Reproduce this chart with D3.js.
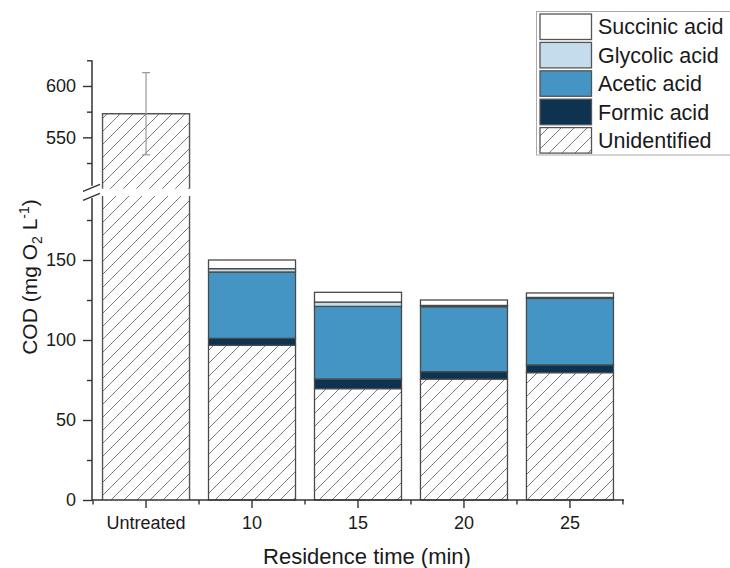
<!DOCTYPE html>
<html>
<head>
<meta charset="utf-8">
<script src="https://cdn.jsdelivr.net/npm/d3@7/dist/d3.min.js"></script>
<style>
  html, body { margin: 0; padding: 0; background: #fff; }
  svg { display: block; font-family: "Liberation Sans", Arial, sans-serif; }
</style>
</head>
<body>
<svg id="chart" width="730" height="568"></svg>
<script>
// Residence times (x categories)
const categories = ["Untreated", "10", "15", "20", "25"];

// COD contributions, mg O2 per litre
const unidentified = [573, 96.7, 69.6, 75.6, 79.6];
const formic       = [0, 4.3, 6.0, 4.6, 4.8];
const acetic       = [0, 41.5, 45.4, 40.6, 41.6];
const glycolic     = [0, 2.1, 2.7, 0.8, 0.6];
const succinic     = [0, 5.4, 6.1, 3.4, 2.8];
const errorBars    = [40, 0, 0, 0, 0];

// Series, bottom to top of each stack
const seriesNames  = ["Unidentified", "Formic acid", "Acetic acid", "Glycolic acid", "Succinic acid"];
const seriesValues = [unidentified, formic, acetic, glycolic, succinic];
const seriesFills  = ["url(#hatch)", "#0d3350", "#4494c4", "#c5dcec", "#ffffff"];

// Broken y axis: lower and upper segments
const lowerTicksMajor = [0, 50, 100, 150];
const lowerTicksMinor = [25, 75, 125, 175];
const upperTicksMajor = [550, 600];
const upperTicksMinor = [525, 575, 625];

const svg = d3.select("#chart");
const axisColor = "#333";
const textColor = "#1a1a1a";

// hatch pattern for the unidentified fraction
const defs = svg.append("defs");
const pat = defs.append("pattern")
  .attr("id", "hatch")
  .attr("patternUnits", "userSpaceOnUse")
  .attr("width", 13).attr("height", 13);
pat.append("rect").attr("width", 13).attr("height", 13).attr("fill", "#fff");
pat.append("path")
  .attr("d", "M-3,16 L16,-3 M-3,3 L3,-3 M10,16 L16,10")
  .attr("stroke", "#7a7a7a").attr("stroke-width", 1);

// scales
const x = d3.scaleBand().domain(categories).range([93, 623])
  .paddingInner(0.179).paddingOuter(0.09);
const yL = d3.scaleLinear().domain([0, 190]).range([500, 196]);
const yU = d3.scaleLinear().domain([500, 625]).range([188.7, 60.3]);

// stacked data
const stacks = categories.map((c, i) => {
  let base = 0;
  return seriesValues.map((vals, s) => {
    const seg = { cat: c, s, y0: base, y1: base + vals[i] };
    base += vals[i];
    return seg;
  }).filter(d => d.y1 > d.y0);
});

const barG = svg.append("g");

stacks.forEach(segs => {
  segs.forEach(d => {
    const x0 = x(d.cat), w = x.bandwidth();
    if (d.y1 > 190) {
      // bar crosses the break: draw lower and upper pieces, open at the break
      const lowTop = yL(190), upTop = yU(d.y1), upBot = yU(500);
      barG.append("rect").attr("x", x0).attr("y", lowTop).attr("width", w)
        .attr("height", yL(d.y0) - lowTop).attr("fill", seriesFills[d.s]);
      barG.append("rect").attr("x", x0).attr("y", upTop).attr("width", w)
        .attr("height", upBot - upTop).attr("fill", seriesFills[d.s]);
      barG.append("path")
        .attr("d", `M${x0},${lowTop} V${yL(d.y0)} M${x0 + w},${lowTop} V${yL(d.y0)}` +
                   ` M${x0},${upBot} V${upTop} H${x0 + w} V${upBot}`)
        .attr("fill", "none").attr("stroke", "#555").attr("stroke-width", 1.4);
    } else {
      barG.append("rect").attr("x", x0).attr("y", yL(d.y1)).attr("width", w)
        .attr("height", yL(d.y0) - yL(d.y1))
        .attr("fill", seriesFills[d.s])
        .attr("stroke", "#4a4a4a").attr("stroke-width", 1.3);
    }
  });
});

// error bars
categories.forEach((c, i) => {
  if (!errorBars[i]) return;
  const total = seriesValues.reduce((a, v) => a + v[i], 0);
  const cx = x(c) + x.bandwidth() / 2;
  const yy = v => (v > 190 ? yU(v) : yL(v));
  const top = yy(total + errorBars[i]), bot = yy(total - errorBars[i]);
  const g = svg.append("g").attr("stroke", "#999").attr("stroke-width", 1.2);
  g.append("line").attr("x1", cx).attr("x2", cx).attr("y1", top).attr("y2", bot);
  g.append("line").attr("x1", cx - 4).attr("x2", cx + 4).attr("y1", top).attr("y2", top);
  g.append("line").attr("x1", cx - 4).attr("x2", cx + 4).attr("y1", bot).attr("y2", bot);
});

// y axes
function styleAxis(g) {
  g.select(".domain").remove();
  g.selectAll("line").attr("stroke", axisColor).attr("stroke-width", 1.4);
  g.selectAll("text").attr("fill", textColor).style("font-size", "18px")
    .style("font-family", "'Liberation Sans', Arial, sans-serif");
}
const axisX = 92;
svg.append("g").attr("transform", `translate(${axisX},0)`)
  .call(d3.axisLeft(yL).tickValues(lowerTicksMajor).tickSize(9).tickPadding(7))
  .call(styleAxis);
svg.append("g").attr("transform", `translate(${axisX},0)`)
  .call(d3.axisLeft(yL).tickValues(lowerTicksMinor).tickSize(5).tickFormat(""))
  .call(styleAxis);
svg.append("g").attr("transform", `translate(${axisX},0)`)
  .call(d3.axisLeft(yU).tickValues(upperTicksMajor).tickSize(9).tickPadding(7))
  .call(styleAxis);
svg.append("g").attr("transform", `translate(${axisX},0)`)
  .call(d3.axisLeft(yU).tickValues(upperTicksMinor).tickSize(5).tickFormat(""))
  .call(styleAxis);

// y axis lines with break
svg.append("line").attr("x1", axisX).attr("x2", axisX)
  .attr("y1", yU(625)).attr("y2", yU(500) - 3)
  .attr("stroke", axisColor).attr("stroke-width", 1.5);
svg.append("line").attr("x1", axisX).attr("x2", axisX)
  .attr("y1", yL(190) + 2).attr("y2", yL(0))
  .attr("stroke", axisColor).attr("stroke-width", 1.5);
const breakY = (yU(500) + yL(190)) / 2;
[-4.5, 4.5].forEach(off => {
  svg.append("line")
    .attr("x1", axisX - 9).attr("y1", breakY + off + 3.5)
    .attr("x2", axisX + 8).attr("y2", breakY + off - 3.5)
    .attr("stroke", axisColor).attr("stroke-width", 1.5);
});

// x axis
svg.append("g").attr("transform", `translate(0,${yL(0)})`)
  .call(d3.axisBottom(x).tickSize(8).tickPadding(8))
  .call(g => {
    g.select(".domain").remove();
    g.selectAll("line").attr("stroke", axisColor).attr("stroke-width", 1.4);
    g.selectAll("text").attr("fill", textColor).style("font-size", "18px")
      .style("font-family", "'Liberation Sans', Arial, sans-serif");
  });
svg.append("line").attr("x1", 92).attr("x2", 624)
  .attr("y1", yL(0)).attr("y2", yL(0))
  .attr("stroke", axisColor).attr("stroke-width", 1.5);
// minor ticks on band boundaries
const step = x.step();
const bounds = [x(categories[0]) - (step - x.bandwidth()) / 2]
  .concat(categories.map(c => x(c) + x.bandwidth() + (step - x.bandwidth()) / 2));
svg.append("g").selectAll("line").data(bounds).join("line")
  .attr("x1", d => d).attr("x2", d => d)
  .attr("y1", yL(0)).attr("y2", yL(0) + 4.5)
  .attr("stroke", axisColor).attr("stroke-width", 1.4);

// axis titles
svg.append("text")
  .attr("x", 367).attr("y", 564)
  .attr("text-anchor", "middle").attr("fill", textColor)
  .style("font-size", "22px")
  .text("Residence time (min)");

const yt = svg.append("text")
  .attr("transform", "translate(37,277) rotate(-90)")
  .attr("text-anchor", "middle").attr("fill", textColor)
  .style("font-size", "21px");
yt.append("tspan").text("COD (mg O");
yt.append("tspan").text("2").style("font-size", "14px").attr("dy", 5);
yt.append("tspan").text(" L").attr("dy", -5);
yt.append("tspan").text("-1").style("font-size", "14px").attr("dy", -8);
yt.append("tspan").text(")").attr("dy", 8);

// legend
const legend = svg.append("g");
legend.append("rect").attr("x", 536.5).attr("y", 11.5)
  .attr("width", 200).attr("height", 143.5)
  .attr("fill", "#fff").attr("stroke", "#aaa").attr("stroke-width", 1);
const legendOrder = [4, 3, 2, 1, 0];
legendOrder.forEach((s, i) => {
  const yy = 14 + i * 28.4;
  legend.append("rect").attr("x", 540).attr("y", yy)
    .attr("width", 51.5).attr("height", 25.5)
    .attr("fill", seriesFills[s]).attr("stroke", "#555").attr("stroke-width", 1.3);
  legend.append("text").attr("x", 598).attr("y", yy + 12.75)
    .attr("dy", "0.36em").attr("fill", textColor)
    .style("font-size", "21.5px").text(seriesNames[s]);
});
</script>
</body>
</html>
